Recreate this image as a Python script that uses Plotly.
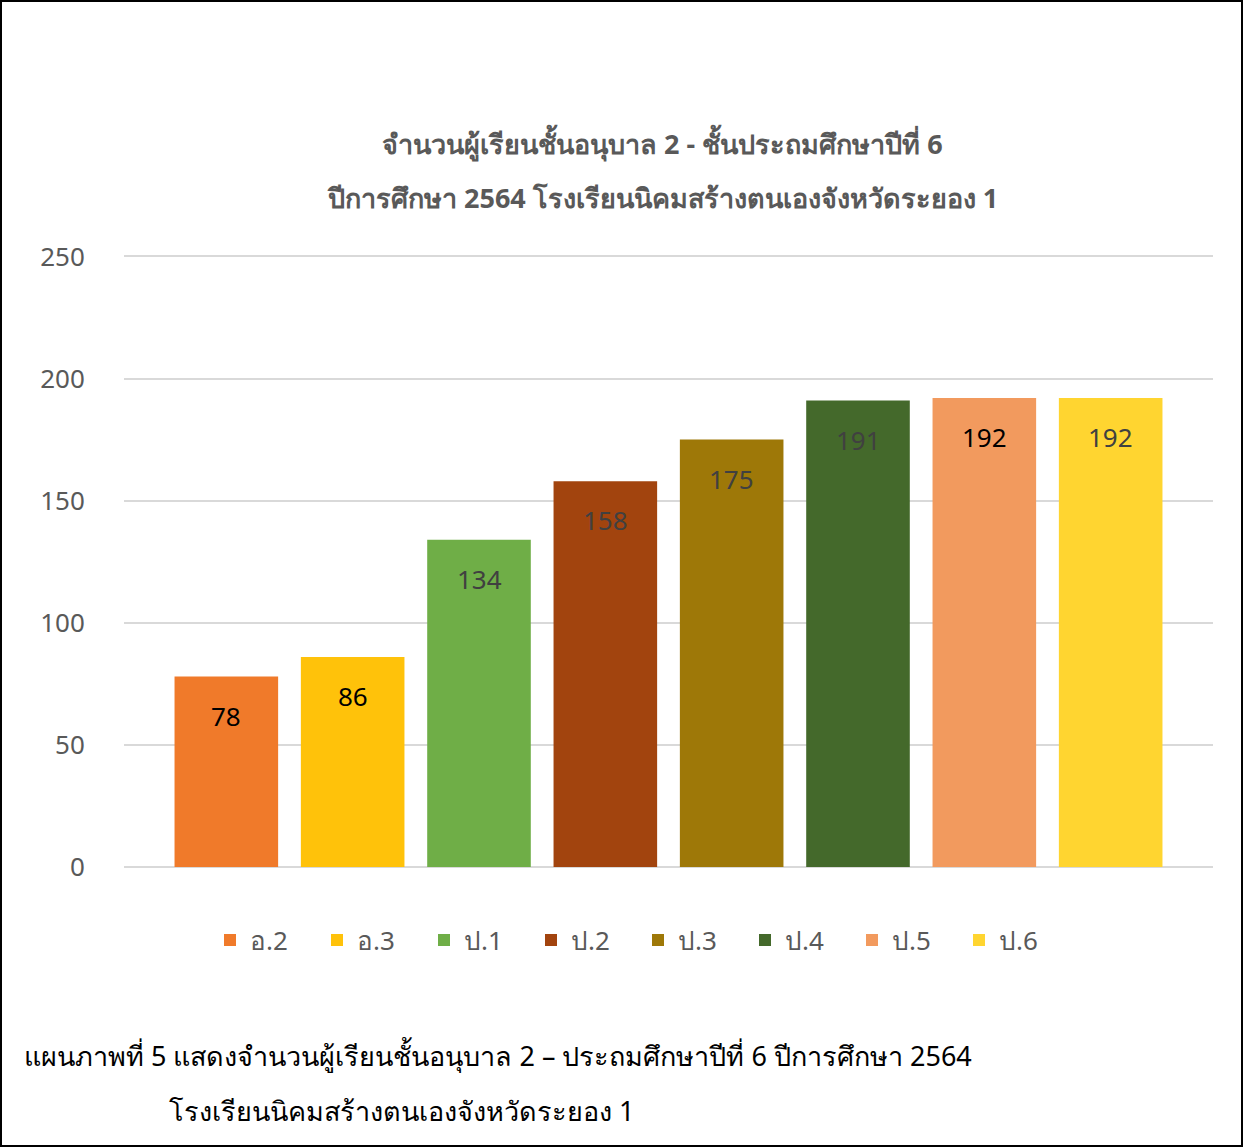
import plotly.graph_objects as go

categories = ["อ.2", "อ.3", "ป.1", "ป.2", "ป.3", "ป.4", "ป.5", "ป.6"]
values = [78, 86, 134, 158, 175, 191, 192, 192]
colors = ["#F07A2A", "#FFC20A", "#6FAE47", "#A2440E", "#9E7808", "#44692B", "#F29A5E", "#FFD530"]
label_colors = ["#000000", "#000000", "#404040", "#404040", "#404040", "#404040", "#000000", "#404040"]
y_ticks = [0, 50, 100, 150, 200, 250]

title_lines = ["จำนวนผู้เรียนชั้นอนุบาล 2 - ชั้นประถมศึกษาปีที่ 6",
               "ปีการศึกษา 2564 โรงเรียนนิคมสร้างตนเองจังหวัดระยอง 1"]
caption_lines = ["แผนภาพที่ 5 แสดงจำนวนผู้เรียนชั้นอนุบาล 2 – ประถมศึกษาปีที่ 6 ปีการศึกษา 2564",
                 "โรงเรียนนิคมสร้างตนเองจังหวัดระยอง 1"]

W, H = 1243, 1147
ml, mr, mt, mb = 124, 30, 254, 280
pw, ph = W - ml - mr, H - mt - mb

FONT = "Noto Sans, DejaVu Sans, sans-serif"

fig = go.Figure()
for i, (c, v) in enumerate(zip(categories, values)):
    fig.add_trace(go.Bar(
        x=[i], y=[v], name=c, width=0.82,
        marker=dict(color=colors[i], line=dict(width=0)),
        hovertemplate=c + ": %{y}<extra></extra>",
    ))
    fig.add_annotation(x=i, y=v, text=str(v), showarrow=False, xanchor="center",
                       yanchor="middle", yshift=-39,
                       font=dict(size=26, color=label_colors[i], family=FONT))

fig.update_layout(
    width=W, height=H,
    margin=dict(l=ml, r=mr, t=mt, b=mb, pad=0),
    paper_bgcolor="white", plot_bgcolor="white",
    barmode="overlay",
    showlegend=True,
    legend=dict(orientation="h", x=(638 - ml) / pw, xanchor="center",
                y=-(940 - 867) / ph, yanchor="middle",
                font=dict(size=26, color="#595959", family=FONT),
                entrywidth=62, entrywidthmode="pixels",
                traceorder="normal", bgcolor="rgba(0,0,0,0)"),
    font=dict(family=FONT, color="#595959"),
    xaxis=dict(range=[-0.81, 7.81], showticklabels=False, showgrid=False,
               zeroline=False, showline=False, ticks=""),
    yaxis=dict(range=[0, 251], tickvals=y_ticks, showgrid=True, gridcolor="#D9D9D9",
               gridwidth=1.5, zeroline=True, zerolinecolor="#D9D9D9", zerolinewidth=1.5,
               showline=False, ticks="outside", ticklen=33, tickcolor="rgba(0,0,0,0)",
               tickfont=dict(size=26, color="#595959", family=FONT)),
)

# title lines
for txt, ypx in zip(title_lines, [143, 198]):
    fig.add_annotation(text="<b>" + txt + "</b>", xref="paper", yref="paper",
                       x=(662 - ml) / pw, y=1 - (ypx - mt) / ph, xanchor="center", yanchor="middle",
                       showarrow=False, font=dict(size=27, color="#595959", family=FONT))

# caption lines
for txt, xpx, ypx in zip(caption_lines, [22, 167], [1055, 1110]):
    fig.add_annotation(text=txt, xref="paper", yref="paper",
                       x=(xpx - ml) / pw, y=1 - (ypx - mt) / ph, xanchor="left", yanchor="middle",
                       showarrow=False, font=dict(size=27, color="#000000", family=FONT))

# outer border
fig.add_shape(type="rect", xref="paper", yref="paper",
              x0=(1 - ml) / pw, x1=(W - 1 - ml) / pw,
              y0=1 - (H - 1 - mt) / ph, y1=1 - (1 - mt) / ph,
              line=dict(color="#000000", width=2), fillcolor="rgba(0,0,0,0)", layer="below")

fig.write_html("out.html", config={"displayModeBar": False},
               post_script="document.body.style.margin='0';document.body.style.overflow='hidden';")
